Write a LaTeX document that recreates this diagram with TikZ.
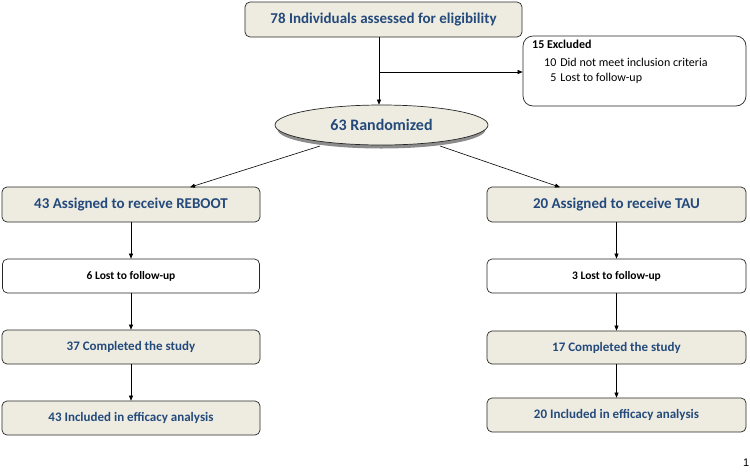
\documentclass[tikz,border=0pt]{standalone}
\usepackage{fontspec}
\setmainfont{Carlito}
\newfontfamily\arialfont{Liberation Sans}
\usetikzlibrary{shapes.geometric,arrows.meta}
\definecolor{boxfill}{HTML}{EEECE1}
\definecolor{textblue}{HTML}{244A7C}
\tikzset{
  bluebox/.style={draw=black!85, line width=0.7pt, fill=boxfill, rounded corners=5pt, text=textblue, font=\bfseries\fontsize{15}{17}\selectfont, inner sep=0pt},
  whitebox/.style={draw=black!85, line width=0.7pt, fill=white, rounded corners=5pt, text=black, font=\bfseries\fontsize{11.5}{13}\selectfont, inner sep=0pt},
  smallblue/.style={bluebox, font=\bfseries\fontsize{13}{15}\selectfont},
  conn/.style={line width=0.6pt, -{Triangle[length=5pt,width=4pt]}}
}
\begin{document}
\begin{tikzpicture}[x=1pt,y=-1pt]
\useasboundingbox (0,0) rectangle (750,475);
% top
\node[bluebox, minimum width=277pt, minimum height=35pt] (top) at (383.5,19.5) {78 Individuals assessed for eligibility};
% excluded
\node[draw=black!85, line width=0.7pt, fill=white, rounded corners=10pt, minimum width=223pt, minimum height=70pt, inner sep=0pt] (excl) at (634.5,71) {};
\node[anchor=north west, align=left, inner sep=0pt, font=\fontsize{12}{14.5}\selectfont] (excltext) at (532,39.5) {\textbf{15 Excluded}\\[7.5pt]
\hspace*{12pt}\begin{tabular}{@{}r@{\hspace{4pt}}l@{}}10 & Did not meet inclusion criteria\\[0.5pt] 5 & Lost to follow-up\end{tabular}};
% ellipse
\fill[black!45] (381.5,129.5) ellipse (104pt and 19pt);
\node[ellipse, draw=black!85, line width=0.7pt, fill=boxfill, minimum width=213pt, minimum height=40pt, inner sep=0pt, text=textblue, font=\bfseries\fontsize{16}{18}\selectfont] (rand) at (381.5,125) {63 Randomized};
% left column
\node[bluebox, minimum width=258pt, minimum height=35pt] (reboot) at (131,204.5) {43 Assigned to receive REBOOT};
\node[whitebox, minimum width=257pt, minimum height=34pt] (lostL) at (131,276) {6 Lost to follow-up};
\node[smallblue, minimum width=258pt, minimum height=34pt] (compL) at (131,347) {37 Completed the study};
\node[smallblue, minimum width=258pt, minimum height=34pt] (inclL) at (131,418) {43 Included in efficacy analysis};
% right column
\node[bluebox, minimum width=259pt, minimum height=35pt] (tau) at (616.5,204.5) {20 Assigned to receive TAU};
\node[whitebox, minimum width=259pt, minimum height=34pt] (lostR) at (616.5,276) {3 Lost to follow-up};
\node[smallblue, minimum width=259pt, minimum height=33pt] (compR) at (616.5,347.5) {17 Completed the study};
\node[smallblue, minimum width=259pt, minimum height=34pt] (inclR) at (616.5,415) {20 Included in efficacy analysis};
% connectors
\coordinate (split) at (379,72);
\draw[conn] (top.south -| split) -- (rand.north -| split);
\draw[conn] (split) -- (excl.west |- split);
\coordinate (rl) at (320,146);
\coordinate (rr) at (440,146);
\coordinate (rlend) at (190,187.2);
\coordinate (rrend) at (560,187.2);
\draw[conn] (rl) -- (rlend);
\draw[conn] (rr) -- (rrend);
\draw[conn] (reboot.south) -- (lostL.north);
\draw[conn] (lostL.south) -- (compL.north);
\draw[conn] (compL.south) -- (inclL.north);
\draw[conn] (tau.south) -- (lostR.north);
\draw[conn] (lostR.south) -- (compR.north);
\draw[conn] (compR.south) -- (inclR.north);
% page number
\node[anchor=west, inner sep=0pt, font=\arialfont\fontsize{11}{13}\selectfont] (pg) at (743,463) {1};
\end{tikzpicture}
\end{document}
